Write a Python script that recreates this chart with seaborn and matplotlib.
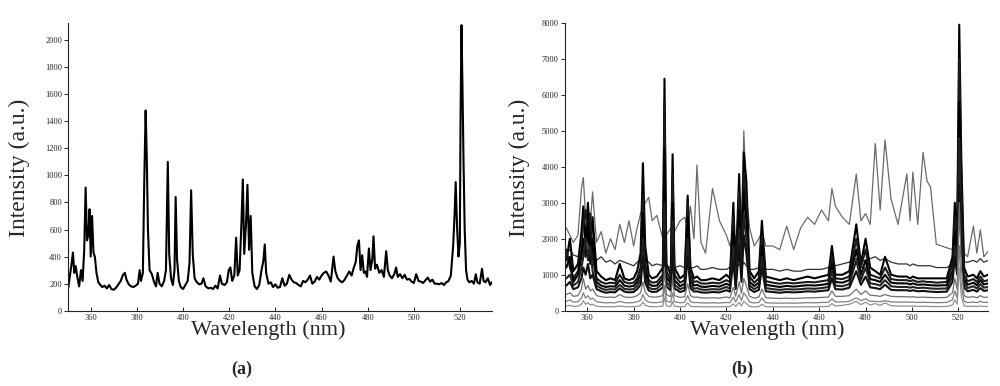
import numpy as np
import pandas as pd
import seaborn as sns
import matplotlib.pyplot as plt

# ---- panel (a): single spectrum ----
wl_a = [350.3, 351.0, 351.6, 352.3, 352.9, 353.5, 354.2, 355.0, 355.8, 356.5,
        357.2, 357.8, 358.4, 359.0, 359.5, 360.0, 360.6, 361.2, 361.8, 362.5,
        363.3, 364.2, 365.0, 366.0, 367.0, 368.0, 369.0, 370.0, 371.0, 372.0,
        373.0, 374.0, 374.8, 375.5, 376.5, 377.5, 378.5, 379.5, 380.5, 381.2,
        381.8, 382.6, 383.2, 383.8, 384.3, 384.8, 385.5, 386.5, 387.5, 388.3,
        389.0, 389.8, 390.8, 391.8, 392.6, 393.4, 394.0, 394.8, 395.6, 396.3,
        396.8, 397.4, 398.2, 399.0, 400.0, 401.0, 402.0, 402.8, 403.5, 404.2,
        405.0, 406.0, 407.0, 408.0, 408.8, 409.8, 411.0, 412.0, 413.0, 414.0,
        415.0, 416.0, 416.8, 418.0, 419.0, 419.8, 420.5, 421.3, 422.2, 423.0,
        423.7, 424.5, 425.3, 425.9, 426.5, 427.3, 427.9, 428.6, 429.3, 430.0,
        431.0, 432.0, 433.0, 434.0, 434.8, 435.4, 436.0, 437.0, 438.0, 439.0,
        440.0, 441.0, 442.0, 443.0, 444.0, 445.0, 446.0, 447.0, 448.0, 449.0,
        450.0, 451.0, 452.0, 453.0, 454.0, 455.0, 456.0, 457.0, 458.0, 459.0,
        460.0, 461.0, 462.0, 463.0, 464.0, 465.2, 466.0, 467.0, 468.0, 469.0,
        470.0, 471.0, 472.0, 473.0, 474.0, 474.8, 475.5, 476.2, 476.9, 477.6,
        478.3, 479.0, 479.7, 480.5, 481.2, 482.0, 482.5, 483.2, 484.0, 485.0,
        486.0, 487.0, 488.0, 488.7, 489.5, 490.5, 491.5, 492.3, 493.0, 494.0,
        495.0, 496.0, 497.0, 498.0, 499.0, 500.0, 501.0, 502.0, 503.0, 504.0,
        505.0, 506.0, 507.0, 508.0, 509.0, 510.0, 511.0, 512.0, 513.0, 514.0,
        515.0, 516.0, 517.0, 517.6, 518.1, 518.7, 519.3, 519.9, 520.2, 520.6,
        521.0, 521.5, 522.0, 522.6, 523.2, 524.0, 525.0, 526.0, 526.8, 527.5,
        528.5, 529.5, 530.2, 531.0, 532.0, 533.0, 533.7]
int_a = [170, 260, 330, 430, 280, 330, 250, 180, 300, 220,
         450, 910, 520, 560, 750, 400, 700, 430, 400, 280,
         210, 190, 175, 185, 165, 190, 160, 155, 170, 195,
         220, 265, 280, 230, 195, 180, 175, 185, 200, 300,
         220, 280, 950, 1480, 1130, 600, 300, 270, 210, 180,
         280, 200, 180, 220, 300, 1100, 420, 240, 190, 300,
         840, 380, 220, 175, 160, 190, 220, 350, 890, 420,
         240, 210, 195, 200, 240, 180, 165, 170, 160, 185,
         165, 260, 200, 190, 210, 300, 320, 220, 260, 540,
         260, 300, 650, 970, 420, 650, 930, 450, 700, 280,
         180, 160, 190, 300, 370, 490, 280, 200, 210, 175,
         195, 170, 175, 240, 185, 200, 265, 230, 210, 205,
         190, 180, 220, 210, 230, 260, 200, 215, 250, 230,
         260, 280, 290, 260, 215, 400, 290, 240, 220, 210,
         230, 260, 290, 260, 320, 360, 480, 520, 300, 410,
         280, 290, 250, 460, 300, 380, 550, 310, 340, 280,
         300, 250, 440, 300, 260, 240, 270, 320, 250, 270,
         240, 265, 230, 235, 215, 205, 270, 220, 215, 205,
         225, 245, 215, 230, 200, 200, 195, 205, 190, 210,
         220, 260, 480, 700, 950, 620, 400, 500, 1400, 2110,
         1700, 1100, 600, 300, 230, 210, 220, 200, 270, 210,
         200, 310, 220, 210, 240, 190, 210]

# ---- panel (b): many spectra on a shared wavelength grid ----
wl_b = [351, 352.5, 354, 356, 357.5, 358.3, 359.3, 360.3, 361.3, 362.3,
        364, 366, 368, 370, 372, 374, 376, 378, 380, 381.5,
        383, 384, 385, 386.5, 388, 390, 392.6, 393.3, 394.1, 396,
        396.8, 397.6, 400, 402, 403.3, 404.5, 406, 407.3, 409, 411,
        414, 417, 420, 421.5, 423, 424, 425.5, 426.5, 427.5, 428.6,
        430, 432, 434, 435.3, 437, 440, 443, 446, 449, 452,
        455, 458, 461, 464, 465.5, 467, 470, 473, 476, 478,
        480, 482, 484.2, 486.3, 488.4, 491, 494, 497.8, 499.2, 500.4,
        502.5, 504.8, 506.5, 508, 510.5, 515, 517.5, 518.5, 519.5, 520.4,
        521.3, 522.5, 524, 526.5, 528, 529.5, 531, 532.8]

top_gray = [2300, 2100, 1900, 2100, 3400, 3700, 2600, 2900, 2400, 3300,
            1900, 2200, 1600, 2000, 1700, 2400, 1900, 2500, 1800, 2300,
            2700, 2900, 3000, 3150, 2500, 2650, 2000, 2300, 2100, 2300,
            2100, 2200, 2500, 2600, 2300, 2900, 2000, 4050, 1900, 1600,
            3400, 2500, 2100, 1800, 2200, 2000, 2400, 2300, 5000, 3200,
            2300, 1800, 2000, 2200, 1800, 1800, 1700, 2350, 1700, 2300,
            2600, 2400, 2800, 2500, 3400, 2900, 2600, 2400, 3800, 2500,
            2700, 2400, 4650, 2800, 4750, 3100, 2400, 3800, 2500, 3850,
            2400, 4400, 3600, 3450, 1850, 1750, 1700, 2200, 1800, 2500,
            1900, 1600, 1500, 2350, 1600, 2250, 1500, 1650]
mid_dark = [1600, 1700, 1550, 1500, 1900, 1800, 1600, 1700, 1550, 1650,
            1400, 1500, 1350, 1400, 1300, 1400, 1350, 1300, 1250, 1350,
            1400, 1500, 1400, 1350, 1250, 1300, 1250, 1400, 1250, 1200,
            1350, 1200, 1250, 1200, 1300, 1200, 1200, 1250, 1150, 1150,
            1200, 1150, 1150, 1200, 1250, 1150, 1300, 1200, 1350, 1250,
            1150, 1150, 1200, 1400, 1150, 1150, 1100, 1150, 1100, 1100,
            1150, 1150, 1150, 1200, 1350, 1250, 1300, 1350, 1450, 1350,
            1400, 1450, 1500, 1400, 1450, 1350, 1300, 1300, 1250, 1300,
            1250, 1250, 1250, 1250, 1200, 1200, 1300, 1600, 1400, 1800,
            1500, 1350, 1350, 1400, 1350, 1450, 1350, 1400]
bundle_1 = [1400, 2000, 1100, 1300, 2200, 2900, 1800, 3000, 1700, 2600,
            1100, 950, 850, 900, 850, 1300, 900, 850, 900, 1100,
            1600, 4100, 1800, 1000, 900, 950, 1200, 6450, 1300, 1000,
            4350, 1200, 900, 1000, 3200, 1200, 900, 950, 850, 850,
            900, 850, 1000, 900, 3000, 1100, 3800, 1500, 4400, 3600,
            1100, 900, 1100, 2500, 950, 900, 850, 900, 850, 900,
            950, 900, 950, 1000, 1800, 1000, 1000, 1100, 2400, 1300,
            2000, 1200, 1100, 1000, 1500, 1000, 950, 950, 900, 950,
            900, 900, 900, 900, 900, 900, 1500, 3000, 2000, 7950,
            4200, 1200, 950, 1000, 900, 1100, 950, 1000]
bundle_2 = [1700, 1200, 900, 1100, 1800, 2400, 2800, 2000, 2700, 1500,
            900, 800, 750, 780, 760, 1000, 800, 760, 780, 900,
            1200, 3200, 1300, 850, 780, 800, 1000, 5800, 1100, 850,
            3800, 1000, 780, 850, 3000, 1000, 800, 820, 760, 750,
            780, 760, 850, 800, 2600, 950, 3300, 1300, 3800, 3000,
            950, 780, 900, 2100, 820, 780, 750, 780, 760, 780,
            800, 790, 820, 850, 1500, 900, 880, 950, 2000, 1200,
            1700, 1000, 950, 900, 1200, 880, 850, 850, 820, 850,
            800, 820, 800, 800, 780, 800, 1300, 2600, 1700, 7000,
            3600, 1000, 820, 880, 800, 950, 820, 850]
bundle_3 = [1200, 1500, 800, 1000, 1500, 2000, 1500, 2400, 1300, 2000,
            800, 700, 660, 680, 670, 850, 700, 670, 690, 800,
            1000, 2700, 1100, 750, 690, 700, 900, 4500, 950, 750,
            3000, 850, 680, 750, 2600, 850, 700, 720, 670, 660,
            690, 670, 750, 700, 2200, 800, 2800, 1100, 3300, 2500,
            800, 690, 780, 1800, 720, 690, 660, 690, 670, 690,
            710, 700, 720, 750, 1300, 800, 780, 850, 1700, 1000,
            1400, 880, 850, 800, 1000, 780, 760, 760, 730, 760,
            720, 730, 720, 710, 700, 710, 1100, 2200, 1400, 5800,
            3000, 880, 720, 780, 710, 850, 730, 760]
bundle_4 = [900, 1000, 700, 800, 1200, 1500, 2000, 1400, 1800, 1100,
            700, 620, 580, 600, 590, 720, 610, 590, 600, 700,
            850, 2000, 900, 650, 600, 610, 780, 3000, 800, 650,
            2500, 720, 600, 650, 2000, 730, 610, 630, 590, 580,
            600, 590, 660, 610, 1800, 700, 2300, 950, 2700, 2000,
            700, 600, 680, 1500, 630, 600, 580, 600, 590, 600,
            620, 610, 630, 660, 1100, 700, 680, 740, 1400, 850,
            1200, 760, 740, 700, 850, 680, 660, 660, 640, 660,
            630, 640, 630, 620, 610, 620, 950, 1800, 1200, 4800,
            2500, 760, 630, 680, 620, 740, 640, 660]
bundle_5 = [700, 800, 600, 650, 900, 1200, 1000, 1300, 900, 1000,
            600, 540, 500, 520, 510, 620, 530, 510, 520, 600,
            720, 1500, 780, 560, 520, 530, 650, 2200, 680, 560,
            1800, 620, 520, 560, 1500, 630, 530, 540, 510, 500,
            520, 510, 570, 530, 1400, 600, 1800, 800, 2100, 1600,
            600, 520, 580, 1200, 540, 520, 500, 520, 510, 520,
            540, 530, 550, 570, 900, 600, 590, 640, 1100, 720,
            950, 650, 630, 600, 720, 580, 570, 570, 550, 570,
            540, 550, 540, 530, 520, 530, 800, 1500, 1000, 3500,
            1900, 650, 540, 580, 530, 630, 550, 570]
low_1 = [450, 500, 400, 420, 600, 900, 600, 700, 550, 600,
         420, 390, 370, 380, 370, 450, 380, 370, 380, 420,
         500, 800, 520, 400, 380, 380, 420, 1200, 450, 390,
         900, 420, 370, 390, 750, 420, 370, 380, 360, 350,
         360, 350, 380, 360, 650, 400, 800, 480, 900, 700,
         400, 350, 380, 600, 360, 350, 340, 350, 340, 350,
         360, 360, 370, 380, 550, 400, 400, 420, 600, 450,
         550, 430, 420, 400, 450, 400, 390, 390, 380, 390,
         370, 380, 370, 370, 360, 370, 500, 900, 600, 3000,
         1200, 420, 370, 390, 360, 420, 370, 380]
low_2 = [260, 300, 240, 250, 350, 500, 350, 420, 320, 350,
         250, 230, 220, 225, 220, 260, 225, 220, 225, 250,
         290, 450, 300, 240, 225, 225, 250, 700, 270, 235,
         500, 250, 220, 235, 420, 250, 225, 230, 220, 215,
         220, 215, 230, 220, 380, 240, 450, 280, 500, 400,
         240, 215, 230, 350, 220, 215, 210, 215, 210, 215,
         225, 220, 230, 235, 330, 245, 245, 260, 360, 280,
         330, 265, 260, 250, 280, 245, 240, 240, 235, 240,
         230, 235, 230, 230, 225, 230, 300, 550, 350, 1800,
         700, 260, 230, 240, 225, 260, 230, 235]
low_3 = [130, 150, 120, 125, 180, 280, 180, 220, 160, 180,
         125, 115, 110, 112, 110, 130, 112, 110, 112, 125,
         145, 240, 150, 120, 112, 112, 125, 380, 135, 118,
         260, 125, 110, 118, 220, 125, 112, 115, 110, 108,
         110, 108, 115, 110, 190, 120, 230, 140, 260, 200,
         120, 108, 115, 180, 110, 108, 105, 108, 105, 108,
         112, 110, 115, 118, 200, 130, 150, 180, 260, 170,
         240, 160, 200, 150, 220, 140, 130, 130, 125, 130,
         120, 125, 120, 118, 115, 118, 160, 300, 180, 1200,
         400, 140, 120, 125, 115, 135, 118, 120]

series_b = {
    "top_gray": top_gray, "mid_dark": mid_dark,
    "bundle_1": bundle_1, "bundle_2": bundle_2, "bundle_3": bundle_3,
    "bundle_4": bundle_4, "bundle_5": bundle_5,
    "low_1": low_1, "low_2": low_2, "low_3": low_3,
}
line_colors = {
    "top_gray": "#6a6a6a", "mid_dark": "#303030",
    "bundle_1": "#000000", "bundle_2": "#1a1a1a", "bundle_3": "#000000",
    "bundle_4": "#222222", "bundle_5": "#111111",
    "low_1": "#707070", "low_2": "#808080", "low_3": "#909090",
}
line_widths = {name: (1.5 if name.startswith("bundle") else 0.9) for name in series_b}

x_ticks = list(range(360, 521, 20))
y_ticks_a = list(range(0, 2001, 200))
y_ticks_b = list(range(0, 8001, 1000))

sns.set_style("ticks")
plt.rcParams["font.family"] = ["Liberation Serif", "DejaVu Serif"]

fig = plt.figure(figsize=(10, 3.86), dpi=100)
ax_a = fig.add_axes([0.0683, 0.195, 0.4234, 0.7461])
ax_b = fig.add_axes([0.565, 0.195, 0.423, 0.7466])

sns.lineplot(x=wl_a, y=int_a, color="black", lw=1.5, ax=ax_a,
             estimator=None, sort=False)

df_b = pd.DataFrame({"wl": wl_b, **series_b}).melt(id_vars="wl", var_name="run", value_name="I")
for name in series_b:
    sub = df_b[df_b["run"] == name]
    sns.lineplot(data=sub, x="wl", y="I", color=line_colors[name], lw=line_widths[name],
                 ax=ax_b, estimator=None, sort=False)

for ax, ylim, yt in [(ax_a, (0, 2128), y_ticks_a), (ax_b, (0, 8010), y_ticks_b)]:
    ax.set_ylim(*ylim)
    ax.set_yticks(yt)
    ax.set_xticks(x_ticks)
    ax.set_xlabel("")
    ax.set_ylabel("")
    ax.tick_params(axis="y", direction="out", length=3, width=0.7, labelsize=6, pad=1.5)
    ax.tick_params(axis="x", direction="in", length=3, width=0.7, labelsize=6, pad=2)
    for s in ["left", "bottom"]:
        ax.spines[s].set_linewidth(0.8)
        ax.spines[s].set_color("#222222")
    sns.despine(ax=ax)
ax_a.set_xlim(350.3, 533.7)
ax_b.set_xlim(350.4, 532.8)

fig.text(0.268, 1 - 320 / 386, "Wavelength (nm)", ha="center", va="top", fontsize=16)
fig.text(0.767, 1 - 320 / 386, "Wavelength (nm)", ha="center", va="top", fontsize=16)
fig.text(0.019, 1 - 168 / 386, "Intensity (a.u.)", ha="center", va="center", rotation=90, fontsize=17)
fig.text(0.519, 1 - 168 / 386, "Intensity (a.u.)", ha="center", va="center", rotation=90, fontsize=17)
fig.text(0.242, 1 - 369 / 386, "(a)", ha="center", va="center", fontsize=13, fontweight="bold")
fig.text(0.742, 1 - 369 / 386, "(b)", ha="center", va="center", fontsize=13, fontweight="bold")

fig.savefig("out.png", dpi=100)
